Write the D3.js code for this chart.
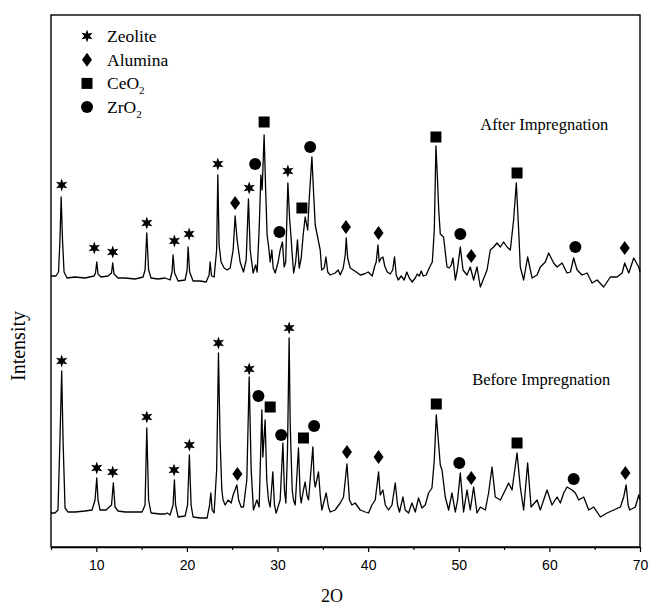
<!DOCTYPE html>
<html>
<head>
<meta charset="utf-8">
<script src="https://cdn.jsdelivr.net/npm/d3@7"></script>
<style>
  body { margin: 0; background: #fff; }
  svg { display: block; }
</style>
</head>
<body>
<div id="chart"></div>
<script>
// XRD patterns, [2theta, intensity a.u.]
var afterImp = [
  [5.00,271],[5.55,271],[5.83,275],[5.99,307],[6.12,350],[6.27,307],[6.44,275],[6.77,269],[7.65,270],[8.75,269],
  [9.75,271],[9.91,274],[10.05,285],[10.19,273],[10.52,270],[11.29,271],[11.68,274],[11.81,284],[11.96,273],[12.40,269],
  [13.17,269],[14.28,268],[15.16,270],[15.38,277],[15.57,314],[15.77,277],[16.04,269],[16.82,268],[17.59,269],[18.14,267],
  [18.36,275],[18.47,292],[18.64,274],[19.03,266],[19.80,267],[20.02,277],[20.13,300],[20.30,275],[20.68,266],[21.46,266],
  [22.12,265],[22.45,272],[22.56,285],[22.72,271],[23.00,270],[23.28,297],[23.41,372],[23.55,302],[23.77,285],[24.11,279],
  [24.44,277],[24.77,279],[25.10,297],[25.32,331],[25.54,307],[25.87,285],[26.24,275],[26.54,287],[26.79,348],[26.98,297],
  [27.31,274],[27.58,282],[27.75,275],[27.97,317],[28.16,372],[28.30,357],[28.52,412],[28.69,357],[28.85,312],[29.02,300],
  [29.19,285],[29.37,297],[29.52,279],[29.74,274],[30.07,285],[30.29,297],[30.54,305],[30.73,280],[30.90,285],[31.14,364],
  [31.34,327],[31.45,315],[31.62,292],[31.78,274],[32.00,285],[32.20,307],[32.39,279],[32.61,289],[32.83,312],[33.05,330],
  [33.33,317],[33.49,347],[33.79,390],[33.99,352],[34.16,322],[34.38,312],[34.71,297],[34.87,277],[35.15,279],[35.34,290],
  [35.54,275],[35.81,272],[36.36,274],[36.70,277],[36.92,272],[37.25,279],[37.47,292],[37.58,309],[37.74,289],[38.02,279],
  [38.35,277],[38.68,275],[39.12,272],[39.57,273],[40.01,275],[40.45,271],[40.73,281],[40.89,285],[41.08,302],[41.22,285],
  [41.44,289],[41.63,290],[41.83,281],[42.11,275],[42.44,273],[42.71,277],[42.91,290],[43.10,272],[43.32,267],[43.65,271],
  [43.98,267],[44.26,275],[44.54,269],[44.87,265],[45.20,269],[45.42,273],[45.64,271],[45.86,276],[46.08,271],[46.41,272],
  [46.74,279],[47.08,285],[47.30,317],[47.48,401],[47.63,372],[47.79,337],[47.96,313],[48.32,310],[48.70,280],[48.95,279],
  [49.17,282],[49.36,289],[49.62,267],[49.84,277],[50.17,300],[50.47,277],[50.91,272],[51.27,280],[51.64,267],[52.01,280],
  [52.38,260],[53.12,277],[53.48,297],[53.85,300],[54.22,304],[54.59,300],[54.95,305],[55.33,300],[55.69,297],[56.05,327],
  [56.35,364],[56.61,317],[56.79,280],[57.16,267],[57.60,290],[58.09,269],[58.64,272],[59.00,280],[59.55,285],[59.92,294],
  [60.47,284],[60.85,280],[61.40,284],[61.95,274],[62.32,275],[62.68,289],[63.06,277],[63.61,272],[64.16,274],[64.71,264],
  [65.27,267],[65.99,260],[66.73,270],[67.47,270],[68.03,274],[68.31,284],[68.76,274],[69.31,289],[69.86,280],[70.00,275]
];

var beforeImp = [
  [5.00,34],[5.44,34],[5.77,37],[5.99,107],[6.18,176],[6.33,107],[6.55,39],[6.88,35],[7.65,35],[8.75,36],
  [9.53,37],[9.86,47],[10.05,69],[10.19,47],[10.41,37],[11.07,37],[11.68,42],[11.88,64],[12.07,40],[12.40,36],
  [13.17,35],[14.28,35],[15.05,35],[15.38,42],[15.57,119],[15.77,47],[16.04,34],[17.04,33],[17.59,33],[17.81,34],
  [18.14,32],[18.47,42],[18.62,67],[18.75,42],[19.03,30],[19.80,31],[20.07,42],[20.27,92],[20.46,42],[20.68,30],
  [21.46,29],[22.23,29],[22.50,42],[22.64,54],[22.78,37],[23.00,34],[23.28,77],[23.48,194],[23.66,107],[23.85,57],
  [23.99,47],[24.22,42],[24.55,47],[24.88,44],[25.10,52],[25.51,62],[25.71,47],[25.98,40],[26.24,40],[26.61,67],
  [26.87,170],[27.09,77],[27.34,37],[27.72,47],[27.97,40],[28.27,137],[28.38,90],[28.63,127],[28.81,67],[29.00,47],
  [29.19,40],[29.48,75],[29.66,42],[29.85,34],[30.29,47],[30.59,104],[30.76,57],[30.92,44],[31.10,97],[31.28,209],
  [31.39,127],[31.47,100],[31.62,57],[31.76,47],[31.95,42],[32.31,99],[32.50,52],[32.61,44],[32.86,57],[33.05,65],
  [33.24,52],[33.42,47],[33.90,100],[34.04,67],[34.16,60],[34.52,75],[34.71,52],[34.89,37],[35.37,54],[35.62,40],
  [35.81,35],[36.36,37],[36.92,44],[37.28,50],[37.66,83],[37.94,47],[38.21,42],[38.57,44],[39.12,37],[39.68,35],
  [40.04,34],[40.42,42],[40.78,47],[41.15,75],[41.33,52],[41.63,57],[41.89,42],[42.25,37],[42.63,42],[42.99,64],
  [43.24,42],[43.46,35],[43.84,50],[44.09,37],[44.46,34],[44.83,44],[45.20,35],[45.56,49],[45.94,39],[46.30,42],
  [46.67,54],[47.04,59],[47.30,87],[47.52,132],[47.96,82],[48.15,77],[48.51,50],[48.88,37],[49.25,54],[49.62,35],
  [49.87,47],[50.17,74],[50.53,35],[50.91,57],[51.27,37],[51.64,60],[52.01,34],[52.38,40],[52.93,37],[53.29,54],
  [53.67,80],[54.03,50],[54.59,47],[55.14,57],[55.50,64],[55.88,57],[56.43,94],[56.79,60],[57.16,37],[57.60,84],
  [57.98,40],[58.64,47],[59.00,37],[59.74,57],[60.29,42],[60.85,50],[61.21,44],[61.58,54],[61.95,60],[62.50,57],
  [62.87,54],[63.23,47],[63.79,50],[64.34,37],[64.89,40],[65.63,30],[66.37,34],[67.10,37],[67.84,40],[68.20,50],
  [68.47,62],[68.69,42],[68.86,37],[69.49,40],[69.86,52],[70.00,47]
];

// phase markers [2theta, intensity]
var zeoliteAfter  = [[6.18,362],[9.78,299],[11.81,295],[15.57,324],[18.62,306],[20.24,313],[23.41,383],[26.87,359],[31.14,376]];
var aluminaAfter  = [[25.32,344],[37.55,320],[41.15,314],[51.38,291],[68.31,299]];
var ceriaAfter    = [[28.52,425],[32.69,339],[47.48,410],[56.43,374]];
var zirconiaAfter = [[27.53,383],[30.21,315],[33.60,400],[50.17,313],[62.87,300]];

var zeoliteBefore  = [[6.18,186],[10.05,79],[11.81,75],[15.57,130],[18.58,77],[20.27,102],[23.48,204],[26.87,178],[31.28,219]];
var aluminaBefore  = [[25.57,73],[37.66,95],[41.15,90],[51.38,69],[68.39,74]];
var ceriaBefore    = [[29.19,140],[32.86,109],[47.52,143],[56.43,104]];
var zirconiaBefore = [[27.89,151],[30.40,112],[34.04,121],[50.06,84],[62.68,68]];

var xTicks = [10, 20, 30, 40, 50, 60, 70];
var xMinorTicks = [5, 15, 25, 35, 45, 55, 65];
var legendNames = ["Zeolite", "Alumina", "CeO", "ZrO"];
var legendSub = ["", "", "2", "2"];
var legendKinds = ["star", "diamond", "square", "circle"];
var curveLabels = [{text: "After Impregnation", x: 52.38, y: 417}, {text: "Before Impregnation", x: 51.49, y: 162}];

var W = 649, H = 608;
var margin = {top: 15, right: 9, bottom: 61, left: 51};
var iw = W - margin.left - margin.right, ih = H - margin.top - margin.bottom;

var svg = d3.select("#chart").append("svg").attr("width", W).attr("height", H);
var g = svg.append("g").attr("transform", "translate(" + margin.left + "," + margin.top + ")");

var x = d3.scaleLinear().domain([5, 70]).range([0, iw]);
var y = d3.scaleLinear().domain([0, 532]).range([ih, 0]);

var serif = "'Liberation Serif', 'Times New Roman', serif";

// frame
g.append("rect").attr("width", iw).attr("height", ih)
  .attr("fill", "none").attr("stroke", "#000").attr("stroke-width", 1.4);

// x axis
var xAxis = g.append("g").attr("transform", "translate(0," + ih + ")")
  .call(d3.axisBottom(x).tickValues(xTicks).tickSize(5).tickSizeOuter(0).tickFormat(d3.format("d")));
xAxis.select(".domain").attr("stroke-width", 1.4);
xAxis.selectAll(".tick line").attr("stroke-width", 1.2);
xAxis.selectAll("text").attr("font-family", "'Liberation Sans', Arial, sans-serif")
  .attr("font-size", 14).attr("dy", "1.1em").attr("fill", "#000");
g.append("g").attr("transform", "translate(0," + ih + ")")
  .call(d3.axisBottom(x).tickValues(xMinorTicks).tickSize(3).tickFormat(""))
  .call(function(s) { s.select(".domain").remove(); s.selectAll("line").attr("stroke-width", 1.2); });

// titles
svg.append("text").attr("x", margin.left + x(36)).attr("y", 602)
  .attr("text-anchor", "middle").attr("font-family", serif).attr("font-size", 18).text("2O");
svg.append("text").attr("transform", "translate(25," + 346 + ") rotate(-90)")
  .attr("text-anchor", "middle").attr("font-family", serif).attr("font-size", 20).text("Intensity");

// curves
var line = d3.line().x(function(d) { return x(d[0]); }).y(function(d) { return y(d[1]); });
[afterImp, beforeImp].forEach(function(s) {
  g.append("path").datum(s).attr("d", line)
    .attr("fill", "none").attr("stroke", "#000").attr("stroke-width", 1.3).attr("stroke-linejoin", "round");
});

// marker shapes
function starPath(R, r) {
  var pts = [];
  for (var k = 0; k < 12; k++) {
    var a = -Math.PI / 2 + k * Math.PI / 6, rr = k % 2 ? r : R;
    pts.push([rr * Math.cos(a), rr * Math.sin(a)]);
  }
  return "M" + pts.map(function(p) { return p[0].toFixed(2) + "," + p[1].toFixed(2); }).join("L") + "Z";
}
function drawMarker(sel, kind) {
  if (kind == "star") sel.append("path").attr("d", starPath(6.5, 2.8));
  else if (kind == "diamond") sel.append("path").attr("d", "M0,-7L5,0L0,7L-5,0Z");
  else if (kind == "square") sel.append("rect").attr("x", -5.5).attr("y", -5.5).attr("width", 11).attr("height", 11);
  else sel.append("circle").attr("r", 6);
}
function markers(data, kind) {
  g.append("g").selectAll("g").data(data).enter().append("g")
    .attr("transform", function(d) { return "translate(" + x(d[0]) + "," + y(d[1]) + ")"; })
    .attr("fill", "#000")
    .each(function() { drawMarker(d3.select(this), kind); });
}
markers(zeoliteAfter, "star"); markers(aluminaAfter, "diamond");
markers(ceriaAfter, "square"); markers(zirconiaAfter, "circle");
markers(zeoliteBefore, "star"); markers(aluminaBefore, "diamond");
markers(ceriaBefore, "square"); markers(zirconiaBefore, "circle");

// curve labels
g.selectAll(".clabel").data(curveLabels).enter().append("text")
  .attr("x", function(d) { return x(d.x); }).attr("y", function(d) { return y(d.y); })
  .attr("font-family", serif).attr("font-size", 16.5).text(function(d) { return d.text; });

// legend
var leg = svg.append("g").attr("transform", "translate(87,36)");
legendNames.forEach(function(n, i) {
  var row = leg.append("g").attr("transform", "translate(0," + i * 23.7 + ")").attr("fill", "#000");
  drawMarker(row, legendKinds[i]);
  var t = row.append("text").attr("x", 20).attr("y", 6).attr("font-family", serif).attr("font-size", 17.5).text(n);
  if (legendSub[i]) t.append("tspan").attr("font-size", 11).attr("dy", 5).text(legendSub[i]);
});
</script>
</body>
</html>
